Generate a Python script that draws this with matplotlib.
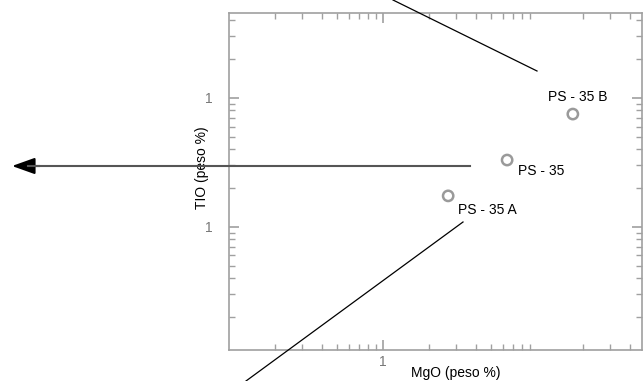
import matplotlib.pyplot as plt
import matplotlib.ticker as mticker
from matplotlib.lines import Line2D

# Data
samples = ["PS - 35 B", "PS - 35", "PS - 35 A"]
mgo = [17.1, 6.4, 2.65]      # MgO (peso %)
tio = [0.75, 0.33, 0.174]    # TIO (peso %)
label_offsets = [(5, 17), (11, -11), (10, -14)]  # pixels
label_ha = ["center", "left", "left"]

plt.rcParams['font.family'] = ['Liberation Sans', 'DejaVu Sans']

fig = plt.figure(figsize=(6.44, 3.81), dpi=100)
ax = fig.add_axes([0.3556, 0.0814, 0.6413, 0.8845])

ax.set_xscale('log')
ax.set_yscale('log')
ax.set_xlim(0.1, 48.1)
ax.set_ylim(0.0111, 4.56)

ax.scatter(mgo, tio, s=55, facecolors='none', edgecolors='#9a9a9a', linewidths=1.8, zorder=3)
for name, x, y, off, ha in zip(samples, mgo, tio, label_offsets, label_ha):
    ax.annotate(name, (x, y), xytext=off, textcoords='offset pixels',
                ha=ha, va='center', fontsize=10, color='black')

# axis cosmetics: faded scan look
for sp in ax.spines.values():
    sp.set_color('#a0a0a0')
    sp.set_linewidth(1.2)
ax.tick_params(which='both', direction='in', top=True, right=True, colors='#a0a0a0',
               labelcolor='#777777', labelsize=10)
ax.tick_params(which='major', length=7, width=1.2)
ax.tick_params(which='minor', length=4, width=1.0)
ax.tick_params(axis='y', which='major', pad=12)
ax.xaxis.set_major_locator(mticker.FixedLocator([1]))
ax.xaxis.set_major_formatter(mticker.FixedFormatter(["1"]))
ax.yaxis.set_major_locator(mticker.FixedLocator([0.1, 1]))
ax.yaxis.set_major_formatter(mticker.FixedFormatter(["1", "1"]))
ax.xaxis.set_minor_locator(mticker.LogLocator(subs=range(2, 10)))
ax.yaxis.set_minor_locator(mticker.LogLocator(subs=range(2, 10)))
ax.xaxis.set_minor_formatter(mticker.NullFormatter())
ax.yaxis.set_minor_formatter(mticker.NullFormatter())

ax.set_xlabel("MgO (peso %)", fontsize=10)
ax.set_ylabel("TIO (peso %)", fontsize=10)
ax.xaxis.set_label_coords(0.549, -0.048)
ax.yaxis.set_label_coords(-0.048, 0.54)

# hand-drawn annotation strokes (figure pixels, origin at top-left)
W, H = 644, 381
def px(x, y):
    return x / W, 1 - y / H

for (x0, y0), (x1, y1) in [((393, 0), (537, 71)), ((463, 222), (246, 381))]:
    a, b = px(x0, y0)
    c, d = px(x1, y1)
    fig.add_artist(Line2D([a, c], [b, d], color='black', lw=0.9, transform=fig.transFigure))

a, b = px(470, 166)
c, d = px(12, 166)
fig.add_artist(Line2D([a, px(28, 166)[0]], [b, d], color='#555555', lw=1.5,
                      transform=fig.transFigure))
ax.annotate("", xy=(c, d), xytext=px(40, 166), xycoords='figure fraction',
            textcoords='figure fraction',
            arrowprops=dict(arrowstyle='-|>,head_length=1.4,head_width=0.5',
                            color='black', lw=1.5, shrinkA=0, shrinkB=0))

fig.savefig("out.png", dpi=100)
